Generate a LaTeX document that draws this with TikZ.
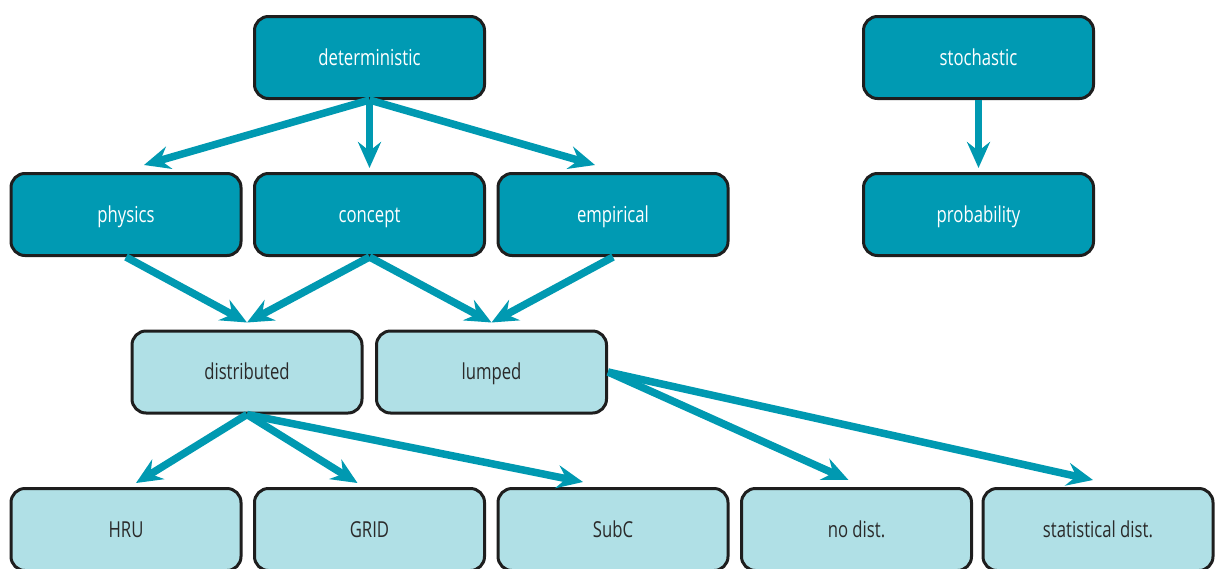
\documentclass[tikz,border=0pt]{standalone}
\usepackage{fontspec}
\setmainfont{Open Sans}[FakeStretch=0.76]
\usetikzlibrary{arrows.meta}
\definecolor{dark}{HTML}{009AB3}
\definecolor{light}{HTML}{B0E0E6}
\definecolor{arrc}{HTML}{0099B1}
\definecolor{bord}{HTML}{1E1E1E}
\definecolor{txt}{HTML}{2A2A2A}
\tikzset{
  box/.style={draw=bord, line width=3pt, rounded corners=14pt, minimum width=230pt, minimum height=82pt, inner sep=0pt, text height=16pt, text depth=1pt, font=\fontsize{22}{25}\selectfont},
  darkbox/.style={box, fill=dark, text=white},
  lightbox/.style={box, fill=light, text=txt},
  arr/.style={draw=arrc, line width=7.5pt, -{Stealth[length=26pt,width=23pt,inset=9pt]}}
}
\begin{document}
\begin{tikzpicture}[x=1pt,y=-1pt]
\useasboundingbox (0,0) rectangle (1215,568);
\clip (0,0) rectangle (1215,568);
\node[darkbox] (det) at (369.5,57.5) {deterministic};
\node[darkbox] (sto) at (978.5,57.5) {stochastic};
\node[darkbox] (phys) at (126,214.5) {physics};
\node[darkbox] (con) at (369.5,214.5) {concept};
\node[darkbox] (emp) at (613,214.5) {empirical};
\node[darkbox] (prob) at (978.5,214.5) {probability};
\node[lightbox] (dist) at (247,372) {distributed};
\node[lightbox] (lum) at (491.5,372) {lumped};
\node[lightbox] (hru) at (126,529.5) {HRU};
\node[lightbox] (grid) at (369.5,529.5) {GRID};
\node[lightbox] (subc) at (613,529.5) {SubC};
\node[lightbox] (nod) at (856.5,529.5) {no dist.};
\node[lightbox] (stat) at (1098,529.5) {statistical dist.};
\draw[arr] (det.south) -- ([xshift=18pt,yshift=7pt]phys.north);
\draw[arr] (det.south) -- ([yshift=4pt]con.north);
\draw[arr] (det.south) -- ([xshift=-18pt,yshift=7pt]emp.north);
\draw[arr] (sto.south) -- ([yshift=4pt]prob.north);
\draw[arr] (phys.south) -- ([yshift=7pt]dist.north);
\draw[arr] (con.south) -- ([yshift=7pt]dist.north);
\draw[arr] (con.south) -- ([yshift=7pt]lum.north);
\draw[arr] (emp.south) -- ([yshift=7pt]lum.north);
\draw[arr] (dist.south) -- ([xshift=10pt,yshift=4pt]hru.north);
\draw[arr] (dist.south) -- ([xshift=-12pt,yshift=4pt]grid.north);
\draw[arr] (dist.south) -- ([xshift=-30pt,yshift=5pt]subc.north);
\draw[arr] (lum.east) -- ([xshift=-8pt,yshift=7pt]nod.north);
\draw[arr] (lum.east) -- ([xshift=-5pt,yshift=7pt]stat.north);
\end{tikzpicture}
\end{document}
